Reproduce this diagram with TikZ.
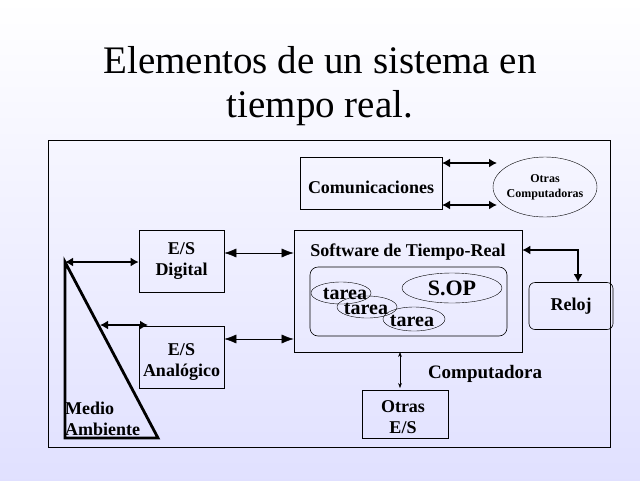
\documentclass[tikz,border=0pt]{standalone}
\usepackage{fontspec}
\setmainfont{Liberation Serif}
\usetikzlibrary{arrows.meta,shapes.geometric}
\begin{document}
\begin{tikzpicture}[x=1pt,y=-1pt,
  box/.style={draw,line width=0.6pt},
  lbl/.style={font=\bfseries\fontsize{18}{21}\selectfont,align=center},
  tlb/.style={font=\bfseries\fontsize{20}{22}\selectfont},
  thick2/.style={line width=2.2pt,{Latex[length=8pt,width=9pt]}-{Latex[length=8pt,width=9pt]}},
  thin2/.style={line width=0.5pt,{Latex[length=12pt,width=9pt]}-{Latex[length=12pt,width=9pt]}}]
\shade[top color=white,bottom color=blue!12] (0,0) rectangle (640,480);
\useasboundingbox (0,0) rectangle (640,480);
\node[font=\fontsize{39}{44}\selectfont,align=center] (title) at (320,86) {Elementos de un sistema en\\tiempo real.};
\draw[line width=0.6pt] (48,140) rectangle (610,447);
\node[box,minimum width=142,minimum height=52] (com) at (371,183) {};
\node[lbl] at (371,187) {Comunicaciones};
\node[draw,ellipse,minimum width=104,minimum height=60] (otc) at (545,187) {};
\node[font=\bfseries\fontsize{12}{15}\selectfont,align=center,inner sep=0pt] at (545,187) {Otras\\Computadoras};
\coordinate (c1) at (442,163); \coordinate (c2) at (497,163);
\coordinate (c3) at (442,205); \coordinate (c4) at (497,205);
\draw[thick2] (c1) -- (c2); \draw[thick2] (c3) -- (c4);
\node[box,minimum width=228,minimum height=122] (sw) at (408,291) {};
\node[lbl] (swt) at (408,252) {Software de Tiempo-Real};
\draw[rounded corners=8pt,line width=0.6pt] (310,267) rectangle (507,336);
\node[draw,ellipse,minimum width=100,minimum height=30] (sop) at (452,288) {};
\node[font=\bfseries\fontsize{22}{24}\selectfont] at (452,288) {S.OP};
\node[draw,ellipse,minimum width=60,minimum height=22] (t1) at (341,293) {};
\node[draw,ellipse,minimum width=60,minimum height=22] (t2) at (367,307) {};
\node[draw,ellipse,minimum width=62,minimum height=24] (t3) at (414,319) {};
\node[tlb] at (345,294) {tarea};
\node[tlb] at (366,309) {tarea};
\node[tlb] at (412,321) {tarea};
\node[box,rounded corners=6pt,lbl,minimum width=84,minimum height=47] (rel) at (571,306) {Reloj};
\draw[thick2] (sw.east |- 0,250) -- (578,250) -- (rel.north -| 578,0);
\node[box,lbl,minimum width=85,minimum height=62] (esd) at (181.5,261) {E/S\\Digital};
\node[box,minimum width=85,minimum height=62] (esa) at (181.5,357) {};
\node[lbl] at (181.5,362) {E/S\\Analógico};
\draw[thin2] (esd.east |- 0,253) -- (sw.west |- 0,253);
\draw[thin2] (esa.east |- 0,339) -- (sw.west |- 0,339);
\coordinate (m1) at (65,262); \coordinate (m2) at (65,438); \coordinate (m3) at (158,438);
\draw[line width=2.8pt,line join=miter] (m1) -- (m2) -- (m3) -- cycle;
\draw[thick2] (m1) -- (esd.west |- 0,262);
\coordinate (m4) at (100,325);
\draw[thick2] (m4) -- (148,325);
\node[lbl,align=left,anchor=west,inner sep=0pt] (ma) at (65,419) {Medio\\Ambiente};
\node[font=\bfseries\fontsize{19}{21}\selectfont] (cpt) at (485,374) {Computadora};
\node[box,minimum width=86,minimum height=48] (oes) at (405,414) {};
\node[lbl] at (403,417) {Otras\\E/S};
\draw[line width=0.5pt,{Stealth[length=5pt]}-{Stealth[length=5pt]}] (400,352) -- (400,388);
\end{tikzpicture}
\end{document}
